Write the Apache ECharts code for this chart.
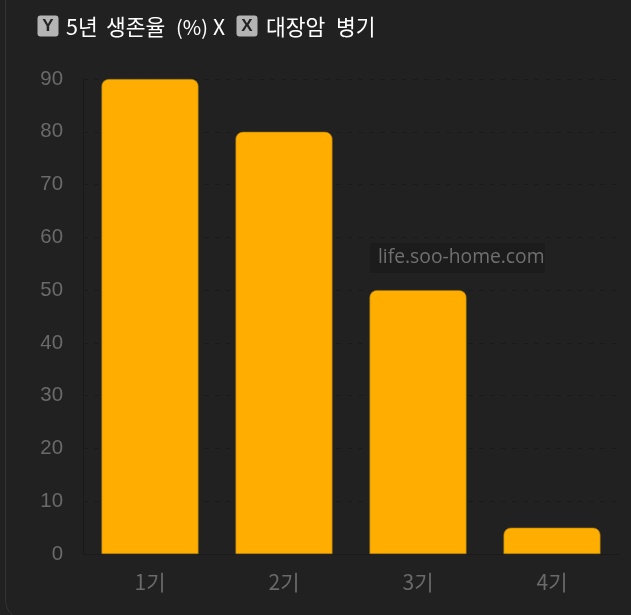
<!DOCTYPE html>
<html><head><meta charset="utf-8">
<style>html,body{margin:0;padding:0;background:#212121;overflow:hidden}#c{width:631px;height:615px}</style>
<script src="https://cdn.jsdelivr.net/npm/echarts@6/dist/echarts.min.js"></script>
</head><body><div id="c"></div>
<script>
const categories = ['1기','2기','3기','4기'];
const survival = [90,80,50,5];
const watermark = 'life.soo-home.com';
const font = '"Noto Sans CJK KR","Liberation Sans",Arial,sans-serif';
function word(x, text, size){
  return {type:'text',z:7,silent:true,style:{x:x,y:27,text:text,fill:'#ffffff',font:(size||21.5)+'px '+font,textVerticalAlign:'middle'}};
}
function badge(x, letter){
  return [
    {type:'rect',z:6,silent:true,shape:{x:x,y:15.5,width:21,height:21,r:3},style:{fill:'#b4b4b4'}},
    {type:'text',z:7,silent:true,style:{x:x+10.5,y:26.5,text:letter,fill:'#222222',font:'bold 17px "Liberation Sans",sans-serif',textAlign:'center',textVerticalAlign:'middle'}}
  ];
}
const chart = echarts.init(document.getElementById('c'), null, {renderer:'canvas'});
chart.setOption({
  backgroundColor:'#212121',
  animation:false,
  grid:{left:83,right:12,top:79,bottom:61,containLabel:false},
  graphic:[
    {type:'rect',z:0,silent:true,shape:{x:5.5,y:-30,width:660,height:650,r:20},style:{fill:'none',stroke:'#333333',lineWidth:1}},
    {type:'rect',z:5,silent:true,shape:{x:370,y:243,width:175,height:30},style:{fill:'#1c1c1c'}},
    {type:'text',z:6,silent:true,style:{x:378,y:258,text:watermark,fill:'#707070',font:'19.3px "Open Sans",sans-serif',textVerticalAlign:'middle'}},
    ...badge(37.5,'Y'),
    word(66,'5년'),word(106,'생존율'),word(176,'(%)',20),word(213,'X',21),
    ...badge(236.5,'X'),
    word(266,'대장암'),word(336,'병기')
  ],
  xAxis:{type:'category',data:categories,
    axisLine:{show:true,lineStyle:{color:'#1a1a1a',width:1}},
    axisTick:{show:false},
    axisLabel:{color:'#6a6a6a',fontSize:21,fontFamily:font,margin:18}},
  yAxis:{type:'value',min:0,max:90,interval:10,
    axisLine:{show:true,lineStyle:{color:'#1a1a1a',width:1}},
    axisTick:{show:false},
    splitLine:{show:true,lineStyle:{color:'#1a1a1a',type:[5,6],width:1}},
    axisLabel:{color:'#6a6a6a',fontSize:20.4,fontFamily:'"Liberation Sans",Arial,sans-serif',margin:20,padding:[2,0,0,0]}},
  series:[{type:'bar',data:survival,barWidth:97,
    itemStyle:{color:'#ffae00',borderRadius:[7,7,0,0],borderColor:'#9a7414',borderWidth:0.6}}]
});
</script></body></html>
